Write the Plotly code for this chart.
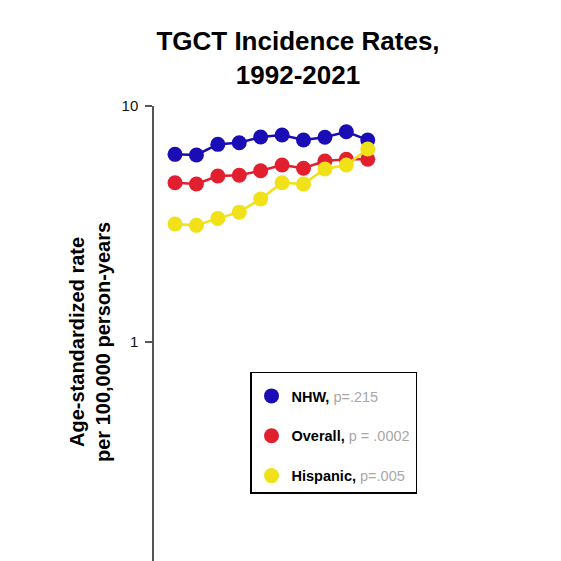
import plotly.graph_objects as go

periods = ["1992-1994", "1995-1997", "1998-2000", "2001-2003", "2004-2006",
           "2007-2009", "2010-2012", "2013-2015", "2016-2018", "2019-2021"]
nhw = [6.24, 6.20, 6.88, 6.99, 7.39, 7.54, 7.18, 7.37, 7.78, 7.18]
overall = [4.73, 4.67, 5.05, 5.09, 5.32, 5.62, 5.45, 5.85, 5.95, 5.95]
hispanic = [3.16, 3.12, 3.34, 3.55, 4.04, 4.73, 4.67, 5.41, 5.62, 6.57]

series_names = ["NHW", "Overall", "Hispanic"]
pvalues = ["p=.215", "p = .0002", "p=.005"]
colors = ["#1a0db5", "#e21f2f", "#f0e118"]
series = [nhw, overall, hispanic]

fig = go.Figure()
for name, pv, col, vals in zip(series_names, pvalues, colors, series):
    fig.add_trace(go.Scatter(
        x=periods, y=vals, mode="lines", showlegend=False,
        legendgroup=name, line=dict(color=col, width=2.5), hoverinfo="skip",
    ))
    fig.add_trace(go.Scatter(
        x=periods, y=vals, mode="markers",
        name=f"<b>{name},</b> <span style='color:#a8a8a8'>{pv}</span>",
        legendgroup=name,
        marker=dict(color=col, size=15),
    ))

fig.update_layout(
    width=561, height=561,
    margin=dict(l=146, r=61, t=98, b=0),
    paper_bgcolor="white", plot_bgcolor="white",
    font=dict(family="Liberation Sans, Arial", color="black"),
    title=dict(text="<b>TGCT Incidence Rates,<br>1992-2021</b>",
               x=290 / 561, xanchor="center", y=0.925, yanchor="top",
               font=dict(size=26, color="black")),
    showlegend=True,
    legend=dict(x=0.2712, y=0.4255, xanchor="left", yanchor="top",
                bordercolor="black", borderwidth=1.5, bgcolor="white",
                font=dict(size=14.5, color="black"),
                title=dict(text=" ", font=dict(size=5)),
                tracegroupgap=18, itemsizing="trace",
                entrywidth=160, entrywidthmode="pixels"),
    xaxis=dict(type="category", range=[-0.981, 15.55], visible=False),
    yaxis=dict(type="log", range=[-0.962, 1.0], tickvals=[1, 10],
               ticktext=["1", "10"], showgrid=False, zeroline=False,
               showline=True, linecolor="#555555", linewidth=1.5,
               ticks="outside", ticklen=7, tickcolor="#555555", tickwidth=1.5,
               ticklabelstandoff=4,
               tickfont=dict(size=15, color="#111111")),
)

fig.add_annotation(
    text="<b>Age-standardized rate<br>per 100,000 person-years</b>",
    xref="paper", yref="paper", x=(82 - 146) / 354, y=(561 - 334) / 463,
    xanchor="center", yanchor="middle",
    textangle=-90, showarrow=False, font=dict(size=20, color="black"),
)

fig.write_html("out.html")
